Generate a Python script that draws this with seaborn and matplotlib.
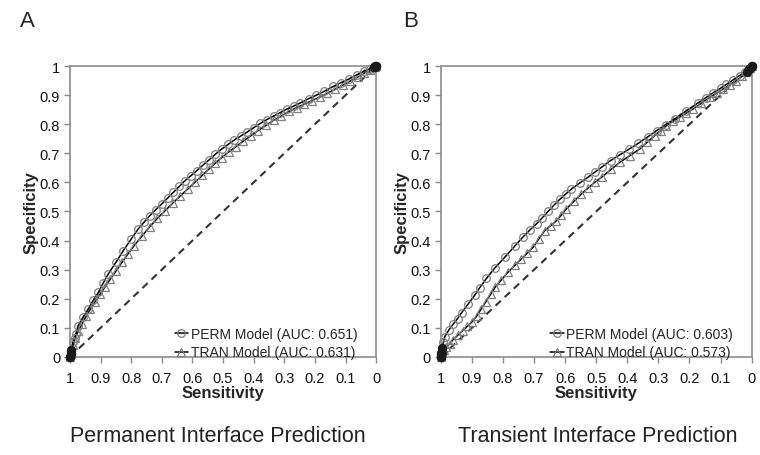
import numpy as np
import pandas as pd
import matplotlib
matplotlib.use("Agg")
import matplotlib.pyplot as plt
from matplotlib.ticker import FormatStrFormatter
import seaborn as sns

# ROC points (sensitivity, specificity)
perm_a_sens = [1.0, 0.998, 0.995, 0.99, 0.985, 0.98, 0.973, 0.957, 0.94, 0.924, 0.907, 0.891,
               0.875, 0.85, 0.826, 0.80, 0.777, 0.758, 0.739, 0.72, 0.70, 0.681, 0.662, 0.643,
               0.624, 0.605, 0.586, 0.565, 0.545, 0.525, 0.504, 0.483, 0.463, 0.443, 0.423,
               0.40, 0.378, 0.357, 0.335, 0.313, 0.292, 0.27, 0.248, 0.22, 0.195, 0.17, 0.14,
               0.115, 0.09, 0.063, 0.04, 0.02, 0.008, 0.003, 0.0]
perm_a_spec = [0.0, 0.012, 0.025, 0.05, 0.065, 0.08, 0.108, 0.137, 0.165, 0.195, 0.222, 0.255,
               0.285, 0.325, 0.365, 0.405, 0.44, 0.463, 0.486, 0.506, 0.526, 0.546, 0.566, 0.586,
               0.606, 0.623, 0.64, 0.66, 0.678, 0.697, 0.715, 0.731, 0.746, 0.759, 0.772,
               0.788, 0.803, 0.816, 0.828, 0.84, 0.852, 0.862, 0.873, 0.888, 0.9, 0.913, 0.93,
               0.943, 0.955, 0.97, 0.982, 0.991, 0.997, 0.999, 1.0]

tran_a_sens = [1.0, 0.998, 0.995, 0.99, 0.982, 0.972, 0.96, 0.947, 0.933, 0.918, 0.902, 0.886,
               0.868, 0.85, 0.83, 0.81, 0.79, 0.765, 0.739, 0.715, 0.69, 0.665, 0.64, 0.615,
               0.59, 0.568, 0.547, 0.526, 0.505, 0.482, 0.458, 0.434, 0.41, 0.385, 0.36, 0.335,
               0.31, 0.285, 0.26, 0.235, 0.21, 0.185, 0.16, 0.135, 0.11, 0.085, 0.06, 0.04,
               0.02, 0.008, 0.003, 0.0]
tran_a_spec = [0.0, 0.01, 0.02, 0.04, 0.065, 0.09, 0.115, 0.14, 0.165, 0.19, 0.215, 0.24,
               0.268, 0.295, 0.325, 0.355, 0.383, 0.415, 0.448, 0.476, 0.502, 0.528, 0.553, 0.578,
               0.602, 0.624, 0.645, 0.665, 0.685, 0.704, 0.723, 0.742, 0.76, 0.778, 0.796, 0.813,
               0.829, 0.844, 0.857, 0.869, 0.881, 0.893, 0.906, 0.92, 0.934, 0.948, 0.962, 0.975,
               0.987, 0.995, 0.998, 1.0]

perm_b_sens = [1.0, 0.998, 0.996, 0.992, 0.987, 0.974, 0.96, 0.946, 0.933, 0.912, 0.891, 0.875,
               0.853, 0.826, 0.794, 0.762, 0.735, 0.713, 0.692, 0.673, 0.655, 0.636, 0.617,
               0.598, 0.58, 0.553, 0.526, 0.505, 0.483, 0.454, 0.424, 0.395, 0.365, 0.335,
               0.306, 0.277, 0.248, 0.21, 0.173, 0.148, 0.124, 0.1, 0.081, 0.06, 0.039, 0.02,
               0.008, 0.003, 0.0]
perm_b_spec = [0.0, 0.015, 0.03, 0.05, 0.07, 0.093, 0.113, 0.132, 0.152, 0.182, 0.212, 0.238,
               0.27, 0.306, 0.343, 0.381, 0.413, 0.437, 0.458, 0.479, 0.5, 0.522, 0.542,
               0.56, 0.577, 0.598, 0.618, 0.635, 0.652, 0.675, 0.695, 0.714, 0.734, 0.756,
               0.778, 0.798, 0.818, 0.846, 0.873, 0.891, 0.908, 0.924, 0.937, 0.952, 0.967, 0.98,
               0.99, 0.996, 1.0]

tran_b_sens = [1.0, 0.998, 0.995, 0.99, 0.982, 0.972, 0.96, 0.945, 0.93, 0.915, 0.9, 0.885,
               0.87, 0.855, 0.84, 0.825, 0.805, 0.784, 0.762, 0.741, 0.722, 0.703, 0.685, 0.666,
               0.647, 0.628, 0.612, 0.596, 0.572, 0.548, 0.527, 0.505, 0.48, 0.452, 0.424,
               0.392, 0.36, 0.336, 0.312, 0.293, 0.274, 0.253, 0.232, 0.21, 0.189, 0.162, 0.135,
               0.113, 0.092, 0.07, 0.049, 0.03, 0.015, 0.005, 0.0]
tran_b_spec = [0.0, 0.006, 0.012, 0.025, 0.035, 0.045, 0.06, 0.075, 0.09, 0.105, 0.12, 0.14,
               0.165, 0.19, 0.215, 0.24, 0.265, 0.291, 0.315, 0.337, 0.357, 0.377, 0.405, 0.434,
               0.451, 0.468, 0.488, 0.509, 0.535, 0.56, 0.58, 0.6, 0.62, 0.645, 0.669,
               0.692, 0.715, 0.738, 0.761, 0.778, 0.795, 0.81, 0.824, 0.838, 0.852, 0.872, 0.892,
               0.907, 0.921, 0.936, 0.95, 0.965, 0.98, 0.992, 1.0]

chance_sens = [1.0, 0.0]
chance_spec = [0.0, 1.0]

panels = [
    ("A", "Permanent Interface Prediction", perm_a_sens, perm_a_spec, tran_a_sens, tran_a_spec,
     "PERM Model (AUC: 0.651)", "TRAN Model (AUC: 0.631)"),
    ("B", "Transient Interface Prediction", perm_b_sens, perm_b_spec, tran_b_sens, tran_b_spec,
     "PERM Model (AUC: 0.603)", "TRAN Model (AUC: 0.573)"),
]
ticks = [1, 0.9, 0.8, 0.7, 0.6, 0.5, 0.4, 0.3, 0.2, 0.1, 0]

sns.set_style("white")
plt.rcParams["font.family"] = ["Liberation Sans", "DejaVu Sans"]

fig = plt.figure(figsize=(7.6, 4.56), dpi=100)
axes_pos = [[0.092, 0.215, 0.403, 0.638], [0.580, 0.215, 0.409, 0.638]]
letter_x = [0.026, 0.530]
caption_x = [0.287, 0.786]

for i, (letter, caption, ps, pp, ts, tp, lab_p, lab_t) in enumerate(panels):
    ax = fig.add_axes(axes_pos[i])
    sns.lineplot(x=chance_sens, y=chance_spec, ax=ax, color="#333333", lw=1.5,
                 linestyle=(0, (3.5, 2.5)), estimator=None, sort=False)
    sns.lineplot(x=ts, y=tp, ax=ax, color="black", lw=1.1, marker="^", markersize=6,
                 mfc="none", mec="#7f7f7f", mew=0.9, estimator=None, sort=False,
                 label=lab_t, clip_on=False)
    sns.lineplot(x=ps, y=pp, ax=ax, color="black", lw=1.1, marker="o", markersize=5.5,
                 mfc="none", mec="#7f7f7f", mew=0.9, estimator=None, sort=False,
                 label=lab_p, clip_on=False)
    # dense clusters of points at both ends show up as dark blobs
    for sx, sy in [(ps, pp), (ts, tp)]:
        sns.scatterplot(x=sx[:3] + sx[-3:], y=sy[:3] + sy[-3:], ax=ax, color="#1a1a1a",
                        s=45, linewidth=0, clip_on=False, zorder=5, legend=False)

    ax.set_xlim(1, 0)
    ax.set_ylim(0, 1)
    ax.set_xticks(ticks)
    ax.set_yticks(ticks)
    ax.xaxis.set_major_formatter(FormatStrFormatter("%g"))
    ax.yaxis.set_major_formatter(FormatStrFormatter("%g"))
    ax.tick_params(axis="both", labelsize=10.5, length=4, width=1, color="#888888",
                   labelcolor="#111111", direction="out", pad=3, bottom=True, left=True)
    ax.tick_params(axis="x", pad=6)
    for s in ax.spines.values():
        s.set_color("#8c8c8c")
        s.set_linewidth(1.2)
    ax.set_xlabel("Sensitivity", fontsize=12, fontweight="bold", labelpad=0)
    ax.set_ylabel("Specificity", fontsize=12, fontweight="bold", labelpad=1)

    h, l = ax.get_legend_handles_labels()
    ax.legend(h[::-1], l[::-1], loc="lower right", frameon=False, fontsize=10,
              handlelength=1.0, handletextpad=0.15, labelspacing=0.35,
              borderaxespad=0.2, bbox_to_anchor=(0.965, -0.037))

    fig.text(letter_x[i], 0.952, letter, fontsize=16, ha="left", va="center")
    fig.text(caption_x[i], 0.042, caption, fontsize=15.5, ha="center", va="center",
             color="#222222")

fig.savefig("out.png", dpi=100)
